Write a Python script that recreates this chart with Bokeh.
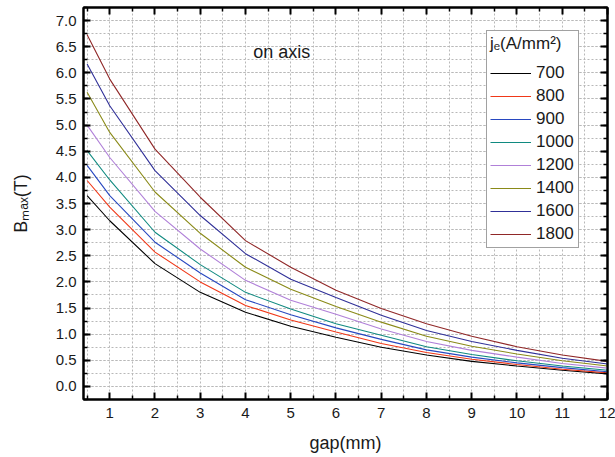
import numpy as np
from bokeh.plotting import figure
from bokeh.models import FixedTicker, LinearAxis, Label, Legend, LegendItem, Range1d
from bokeh.embed import file_html
from bokeh.resources import INLINE

# ---------------- data ----------------
gap_mm = [0.5, 1, 2, 3, 4, 5, 6, 7, 8, 9, 10, 11, 12]
series_names = ["700", "800", "900", "1000", "1200", "1400", "1600", "1800"]
b_700 = [3.65, 3.17, 2.35, 1.80, 1.42, 1.15, 0.94, 0.75, 0.60, 0.48, 0.39, 0.31, 0.24]
b_800 = [3.94, 3.43, 2.57, 2.00, 1.55, 1.27, 1.04, 0.82, 0.65, 0.52, 0.42, 0.33, 0.26]
b_900 = [4.23, 3.65, 2.76, 2.17, 1.66, 1.37, 1.12, 0.90, 0.70, 0.56, 0.45, 0.36, 0.28]
b_1000 = [4.51, 3.95, 2.95, 2.33, 1.80, 1.48, 1.20, 0.98, 0.76, 0.61, 0.49, 0.39, 0.31]
b_1200 = [5.00, 4.38, 3.35, 2.63, 2.03, 1.65, 1.38, 1.10, 0.86, 0.69, 0.56, 0.44, 0.35]
b_1400 = [5.63, 4.86, 3.72, 2.93, 2.28, 1.86, 1.53, 1.23, 0.96, 0.77, 0.62, 0.49, 0.39]
b_1600 = [6.17, 5.37, 4.13, 3.27, 2.54, 2.05, 1.70, 1.36, 1.07, 0.86, 0.69, 0.54, 0.43]
b_1800 = [6.73, 5.88, 4.54, 3.62, 2.79, 2.28, 1.84, 1.49, 1.20, 0.96, 0.76, 0.60, 0.48]
series_values = [b_700, b_800, b_900, b_1000, b_1200, b_1400, b_1600, b_1800]
series_colors = ["#000000", "#f03818", "#2848c0", "#108a80", "#b080d8", "#8a8a18", "#303098", "#902828"]

x_ticks = list(range(1, 13))
x_minor_ticks = [i + 0.5 for i in range(0, 12)]
y_ticks = [i * 0.5 for i in range(0, 15)]
y_minor_ticks = [i * 0.25 for i in range(-1, 30)]
y_tick_labels = ["%.1f" % v for v in y_ticks]

FONT = "Liberation Sans"
TXT = "#1a1a1a"

p = figure(width=615, height=457, output_backend="svg", toolbar_location=None,
           x_range=Range1d(0.42, 12.0), y_range=Range1d(-0.25, 7.25),
           min_border_left=83, min_border_right=8, min_border_top=7, min_border_bottom=58,
           background_fill_color="white", border_fill_color="white")
p.outline_line_color = "black"
p.outline_line_width = 2

bottom = p.below[0]
left = p.left[0]

renderers = []
for vals, col in zip(series_values, series_colors):
    r = p.line(gap_mm, vals, line_color=col, line_width=1.1)
    renderers.append(r)

# axes
xt = FixedTicker(ticks=x_ticks, minor_ticks=x_minor_ticks)
yt = FixedTicker(ticks=y_ticks, minor_ticks=y_minor_ticks)
bottom.ticker = xt
left.ticker = yt
left.major_label_overrides = {v: s for v, s in zip(y_ticks, y_tick_labels)}

top = LinearAxis(ticker=xt)
right = LinearAxis(ticker=yt)
p.add_layout(top, "above")
p.add_layout(right, "right")

for ax in [bottom, left, top, right]:
    ax.axis_line_width = 2
    ax.axis_line_color = "black"
    ax.major_tick_in = 7
    ax.major_tick_out = 0
    ax.minor_tick_in = 4
    ax.minor_tick_out = 0
    ax.major_tick_line_width = 2
    ax.minor_tick_line_width = 1.5
    ax.major_tick_line_color = "black"
    ax.minor_tick_line_color = "black"
    ax.major_label_text_font = FONT
    ax.major_label_text_font_size = "15px"
    ax.major_label_text_color = TXT

for ax in [top, right]:
    ax.major_label_text_font_size = "0px"
    ax.major_label_text_color = None
    ax.major_label_standoff = 0

bottom.major_label_standoff = 8
left.major_label_standoff = 7
bottom.axis_label = "gap(mm)"
left.axis_label = "B\u2098\u2090\u2093(T)"
for ax in [bottom, left]:
    ax.axis_label_text_font = FONT
    ax.axis_label_text_font_size = "18px"
    ax.axis_label_text_font_style = "normal"
    ax.axis_label_text_color = TXT
bottom.axis_label_standoff = 12
left.axis_label_standoff = 22

# grid
for g, tk in [(p.xgrid[0], xt), (p.ygrid[0], yt)]:
    g.ticker = tk
    g.grid_line_color = "#b8b8b8"
    g.grid_line_dash = "2 2"
    g.grid_line_width = 1
    g.minor_grid_line_color = "#b8b8b8"
    g.minor_grid_line_dash = "2 2"
    g.minor_grid_line_width = 1

# annotation
p.add_layout(Label(x=4.17, y=6.39, text="on axis", text_font=FONT, text_font_size="18px",
                   text_color=TXT, text_baseline="alphabetic"))

legend = Legend(items=[LegendItem(label=n, renderers=[r]) for n, r in zip(series_names, renderers)],
                location=(403, 151), title="j\u2091(A/mm\u00b2)")
legend.title_text_font = FONT
legend.title_text_font_size = "17px"
legend.title_text_font_style = "normal"
legend.title_text_color = TXT
legend.title_standoff = 9
legend.label_text_font = FONT
legend.label_text_font_size = "17px"
legend.label_text_color = TXT
legend.glyph_width = 41
legend.glyph_height = 20
legend.label_height = 20
legend.label_width = 39
legend.label_standoff = 5
legend.spacing = 3
legend.padding = 3
legend.margin = 0
legend.border_line_color = "#444444"
legend.border_line_width = 1
legend.background_fill_alpha = 1.0
p.add_layout(legend)

open("out.html", "w").write(file_html(p, INLINE))
